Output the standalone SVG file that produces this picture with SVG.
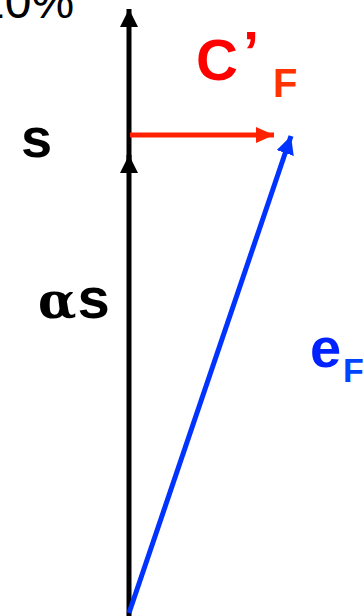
<svg xmlns="http://www.w3.org/2000/svg" width="364" height="616" viewBox="0 0 364 616">
<style>
.lbl{font-family:"Liberation Sans",Arial,sans-serif;font-weight:bold}
</style>
<defs>
<marker id="hk" markerUnits="userSpaceOnUse" markerWidth="20" markerHeight="20" refX="18" refY="9" orient="auto"><path d="M0,0 L18,9 L0,18 Z" fill="#000"/></marker>
<marker id="hr" markerUnits="userSpaceOnUse" markerWidth="20" markerHeight="20" refX="18" refY="9" orient="auto"><path d="M0,1 L18,9 L0,17 Z" fill="#ff2200"/></marker>
<marker id="hb" markerUnits="userSpaceOnUse" markerWidth="20" markerHeight="20" refX="18" refY="9" orient="auto"><path d="M0,0 L18,9 L0,18 Z" fill="#0033ff"/></marker>
</defs>
<rect width="364" height="616" fill="#fff"/>
<text x="-22" y="18" font-family="Liberation Sans,Arial,sans-serif" font-size="48" fill="#000">20%</text>
<g id="connectors">
<line x1="129" y1="616" x2="129" y2="155" stroke="#000" stroke-width="5" marker-end="url(#hk)"/>
<line x1="129" y1="166" x2="129" y2="9" stroke="#000" stroke-width="5" marker-end="url(#hk)"/>
<line x1="130" y1="135" x2="274" y2="135" stroke="#ff2200" stroke-width="5" marker-end="url(#hr)"/>
<line x1="129" y1="613" x2="291" y2="136" stroke="#0033ff" stroke-width="5" marker-end="url(#hb)"/>
</g>
<g id="s"><text class="lbl" x="21" y="157" font-size="56" fill="#000">s</text></g>
<g id="as"><text x="38" y="318" font-size="58" fill="#000"><tspan font-family="DejaVu Serif,serif" font-size="50" font-weight="bold">α</tspan><tspan class="lbl" dx="1">s</tspan></text></g>
<g id="cf"><text class="lbl" x="196" y="80" font-size="58" fill="#ff0000">C</text><text class="lbl" x="243" y="72" font-size="58" fill="#ff0000">’</text><text class="lbl" x="273" y="97" font-size="40" fill="#ff3300">F</text></g>
<g id="ef"><text class="lbl" x="310" y="367" font-size="56" fill="#0022ff">e</text><text class="lbl" x="343" y="382" font-size="34" fill="#0044ff">F</text></g>
</svg>
